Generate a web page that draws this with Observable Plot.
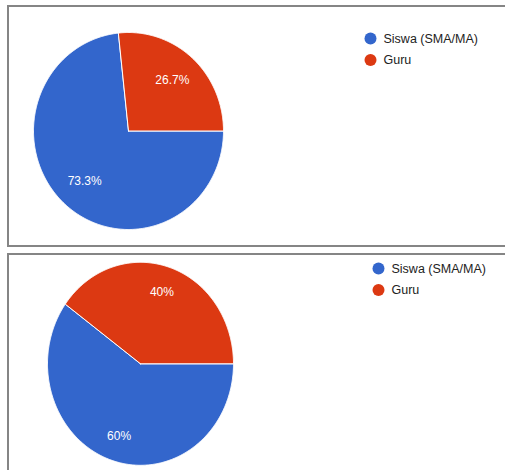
<!DOCTYPE html>
<html>
<head>
<meta charset="utf-8">
<script src="https://cdn.jsdelivr.net/npm/d3@7"></script>
<script src="https://cdn.jsdelivr.net/npm/@observablehq/plot@0.6"></script>
<style>
  html, body { margin: 0; padding: 0; background: #fff; }
  #wrap { position: relative; width: 505px; height: 470px; overflow: hidden; }
  #wrap svg { position: absolute; left: 0; top: 0; }
  .panel { position: absolute; border: 2px solid #858585; box-sizing: border-box; pointer-events: none; }
</style>
</head>
<body>
<div id="wrap">
  <div class="panel" style="left:7px; top:5px; width:520px; height:242px;"></div>
  <div class="panel" style="left:7px; top:253px; width:520px; height:240px;"></div>
</div>
<script>
// ---- data ----
const categories = ["Siswa (SMA/MA)", "Guru"];
const chart1Values = [73.3, 26.7];
const chart2Values = [60, 40];
const colors = ["#3366cc", "#dc3912"];

// ---- layout (pixels) ----
const panels = [
  {values: chart1Values, cx: 128, cy: 130.5, rx: 95, ry: 98.5, labelF: 0.69, legendX: 370, legendY: 38},
  {values: chart2Values, cx: 140, cy: 363.3, rx: 93, ry: 101.5, labelF: 0.745, legendX: 378, legendY: 268}
];
const startAngle = Math.PI / 2; // Google pie starting at 3 o'clock here

const slicePts = [], labels = [], legend = [];
panels.forEach((p, pi) => {
  const total = d3.sum(p.values);
  let a = startAngle;
  p.values.forEach((v, i) => {
    const a0 = a, a1 = a + (v / total) * 2 * Math.PI;
    a = a1;
    const key = pi + "-" + i;
    slicePts.push({key, cat: categories[i], x: p.cx, y: p.cy});
    const n = Math.max(2, Math.ceil((a1 - a0) / (Math.PI / 360)));
    for (let k = 0; k <= n; k++) {
      const t = a0 + (a1 - a0) * k / n;
      slicePts.push({key, cat: categories[i], x: p.cx + p.rx * Math.sin(t), y: p.cy - p.ry * Math.cos(t)});
    }
    slicePts.push({key, cat: categories[i], x: p.cx, y: p.cy});
    const mid = (a0 + a1) / 2;
    labels.push({
      x: p.cx + p.labelF * p.rx * Math.sin(mid),
      y: p.cy - p.labelF * p.ry * Math.cos(mid),
      text: (+(v / total * 100).toFixed(1)) + "%"
    });
  });
  categories.forEach((c, i) => legend.push({cat: c, x: p.legendX, y: p.legendY + i * 21.5}));
});

const chart = Plot.plot({
  width: 505,
  height: 470,
  margin: 0,
  style: {fontFamily: "Arial, 'Liberation Sans', sans-serif", background: "transparent"},
  x: {domain: [0, 505], range: [0, 505], axis: null},
  y: {domain: [0, 470], range: [0, 470], axis: null},
  color: {domain: categories, range: colors},
  marks: [
    Plot.line(slicePts, {x: "x", y: "y", z: "key", fill: "cat", stroke: "white", strokeWidth: 1, curve: "linear"}),
    Plot.text(labels, {x: "x", y: "y", text: "text", fill: "white", fontSize: 12, textAnchor: "middle"}),
    Plot.dot(legend, {x: "x", y: "y", r: 6, fill: "cat", stroke: null}),
    Plot.text(legend, {x: "x", y: "y", text: "cat", dx: 13, textAnchor: "start", fill: "#222", fontSize: 12.5})
  ]
});
document.getElementById("wrap").prepend(chart);
</script>
</body>
</html>
